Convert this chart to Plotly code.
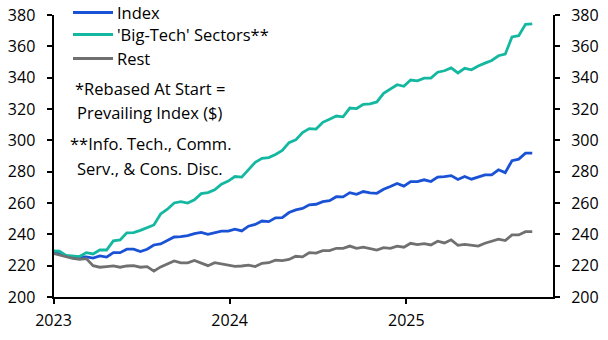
import datetime as dt
import plotly.graph_objects as go

start_date = dt.date(2022, 12, 30)
step_days = 14
series_names = ["Index", "'Big-Tech' Sectors**", "Rest"]

index_vals = [
    228.5, 228.0, 226.3, 225.5, 225.4, 225.6, 224.8, 226.2, 225.5, 228.3,
    228.3, 230.5, 230.5, 229.0, 230.5, 233.2, 233.9, 236.0, 238.3, 238.5,
    239.2, 240.5, 241.2, 240.0, 241.0, 242.0, 242.0, 243.3, 242.2, 245.2,
    246.3, 248.5, 248.1, 250.5, 250.7, 253.9, 255.6, 256.5, 258.8, 259.2,
    260.9, 261.5, 264.0, 263.9, 266.6, 265.5, 267.3, 266.5, 266.2, 268.8,
    270.5, 272.5, 270.8, 273.7, 273.7, 274.8, 273.7, 276.5, 276.9, 277.5,
    275.0, 276.9, 275.2, 276.5, 278.0, 278.0, 281.2, 279.4, 287.0, 288.0,
    291.8, 291.8,
]
bigtech_vals = [
    229.4, 229.2, 226.5, 226.0, 225.8, 228.3, 227.5, 230.0, 230.0, 235.8,
    236.4, 241.0, 241.1, 242.5, 244.5, 246.0, 253.0, 256.0, 260.0, 260.9,
    260.0, 262.0, 266.0, 266.6, 268.4, 272.0, 274.0, 276.9, 276.5, 281.5,
    286.0, 288.5, 289.0, 291.0, 293.5, 298.5, 300.3, 305.0, 307.5, 307.2,
    311.5, 313.5, 315.5, 315.0, 320.6, 320.3, 323.0, 323.3, 324.5, 330.0,
    332.5, 335.5, 334.5, 338.5, 338.0, 339.7, 339.7, 343.5, 344.4, 346.2,
    343.0, 346.0, 345.0, 347.5, 349.3, 351.0, 354.0, 355.0, 366.0, 366.8,
    374.0, 374.4,
]
rest_vals = [
    227.9, 226.8, 225.5, 224.6, 224.1, 224.5, 220.0, 219.0, 219.4, 219.8,
    219.0, 219.8, 220.0, 219.0, 219.4, 216.5, 219.2, 221.3, 223.0, 221.8,
    221.8, 223.3, 221.5, 220.0, 221.9, 221.0, 220.3, 219.6, 219.8, 220.3,
    219.4, 221.5, 221.9, 223.5, 223.2, 224.0, 226.0, 225.6, 228.3, 228.0,
    229.6, 229.6, 231.1, 231.1, 232.5, 231.1, 231.8, 230.9, 230.0, 231.5,
    231.0, 232.5, 231.8, 234.3, 233.5, 234.0, 233.2, 235.6, 234.5, 236.5,
    233.0, 233.6, 233.0, 232.5, 234.3, 235.5, 236.9, 236.0, 239.6, 239.6,
    241.7, 241.7,
]
y_ticks = [200, 220, 240, 260, 280, 300, 320, 340, 360, 380]
x_ticks = ["2023-01-01", "2024-01-01", "2025-01-01"]
x_tick_labels = ["2023", "2024", "2025"]
note_lines = ["*Rebased At Start =", "Prevailing Index ($)",
              "**Info. Tech., Comm.", "Serv., & Cons. Disc."]

dates = [start_date + dt.timedelta(days=step_days * i) for i in range(len(index_vals))]

# ---- style ----
colors = ["#1a52d6", "#14b8a0", "#707070"]
FONT = "'Open Sans', 'Liberation Sans', sans-serif"
TICK_SIZE = 16
TEXT_SIZE = 16.5
W, H = 608, 340
px_left, px_right, px_top, px_bot = 53.5, 553, 15, 297

def xp(px):
    return px / W

def yp(py):
    return 1 - py / H

fig = go.Figure()
for name, vals, col in zip(series_names, [index_vals, bigtech_vals, rest_vals], colors):
    fig.add_trace(go.Scatter(x=dates, y=vals, mode="lines", name=name,
                             line=dict(color=col, width=2.8), showlegend=False))
# invisible trace to anchor right axis
fig.add_trace(go.Scatter(x=dates, y=index_vals, yaxis="y2", mode="lines",
                         line=dict(width=0), opacity=0, showlegend=False,
                         hoverinfo="skip"))

ydom = [yp(px_bot), yp(px_top)]
axis_common = dict(range=[200, 380], tickvals=y_ticks, showgrid=False, zeroline=False,
                   showline=True, linecolor="black", linewidth=2,
                   ticks="outside", ticklen=5, tickwidth=2, tickcolor="black",
                   tickfont=dict(family=FONT, size=TICK_SIZE, color="black"),
                   domain=ydom, automargin=False)

fig.update_layout(
    width=W, height=H,
    margin=dict(l=0, r=0, t=0, b=0),
    paper_bgcolor="white", plot_bgcolor="white",
    font=dict(family=FONT, size=TEXT_SIZE, color="black"),
    xaxis=dict(range=["2023-01-01", "2025-11-01"], tickvals=x_ticks, ticktext=x_tick_labels,
               domain=[xp(px_left), xp(px_right)], automargin=False,
               showgrid=False, zeroline=False, showline=True, linecolor="black", linewidth=2,
               ticks="outside", ticklen=5, tickwidth=2, tickcolor="black",
               tickfont=dict(family=FONT, size=TICK_SIZE, color="black"), ticklabelstandoff=3),
    yaxis=dict(**axis_common, side="left", ticklabelstandoff=8),
    yaxis2=dict(**axis_common, side="right", overlaying="y", ticklabelstandoff=8),
)

# custom legend
legend_rows = [12.5, 34.5, 58.5]
for name, col, row in zip(series_names, colors, legend_rows):
    fig.add_shape(type="line", xref="paper", yref="paper",
                  x0=xp(73), x1=xp(113), y0=yp(row), y1=yp(row),
                  line=dict(color=col, width=2.8))
    fig.add_annotation(xref="paper", yref="paper", x=xp(115), y=yp(row),
                       text=name, showarrow=False, xanchor="left", yanchor="middle",
                       font=dict(family=FONT, size=TEXT_SIZE, color="black"))

note_rows = [89, 113, 143, 168]
for line, row in zip(note_lines, note_rows):
    fig.add_annotation(xref="paper", yref="paper", x=xp(150), y=yp(row),
                       text=line.replace("$", "&#36;"), showarrow=False, xanchor="center",
                       yanchor="middle", font=dict(family=FONT, size=TEXT_SIZE, color="black"))

fig.write_html("out.html")
